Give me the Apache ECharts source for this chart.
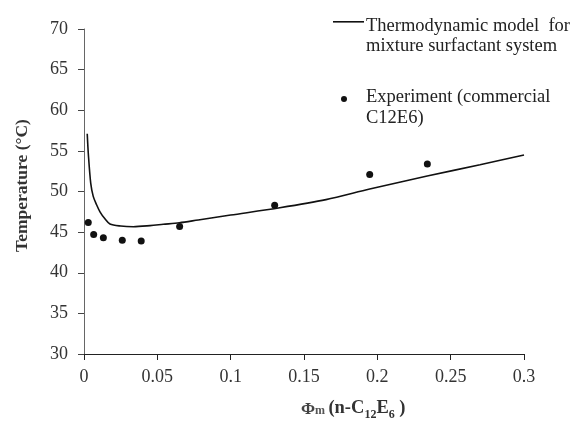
<!DOCTYPE html>
<html>
<head>
<meta charset="utf-8">
<script src="https://cdn.jsdelivr.net/npm/echarts@6/dist/echarts.min.js"></script>
<style>
  html, body { margin: 0; padding: 0; background: #fff; }
  #chart { width: 574px; height: 424px; }
</style>
</head>
<body>
<div id="chart"></div>
<script>
// Thermodynamic model curve: volume fraction vs cloud-point temperature
const modelPhi  = [0.0022, 0.003, 0.0046, 0.0063, 0.0085, 0.0109, 0.014, 0.0177, 0.025, 0.0336, 0.045, 0.054, 0.065, 0.0779, 0.1, 0.1335, 0.165, 0.1948, 0.234, 0.27, 0.3];
const modelTemp = [57.1, 54.5, 51.0, 49.4, 48.4, 47.5, 46.7, 46.0, 45.75, 45.67, 45.8, 45.96, 46.15, 46.5, 47.1, 48.0, 49.0, 50.3, 51.9, 53.3, 54.5];

// Measured points, commercial C12E6
const expPhi  = [0.0029, 0.0066, 0.0132, 0.0261, 0.039, 0.0652, 0.130, 0.1948, 0.2341];
const expTemp = [46.2, 44.7, 44.3, 44.0, 43.9, 45.7, 48.3, 52.1, 53.4];

const xTicks = { min: 0, max: 0.3, interval: 0.05 };
const yTicks = { min: 30, max: 70, interval: 5 };

const modelName = 'Thermodynamic model  for\nmixture surfactant system';
const expName = 'Experiment (commercial\nC12E6)';

const serif = '"Liberation Serif", "DejaVu Serif", serif';

// Legend icons: the visible mark sits at the top of a taller box so it lines up
// with the first line of a two-line label (the trailing zero-length segment only
// extends the bounds).
const lineIcon = 'path://M0,0 L31,0 L31,1.6 L0,1.6 Z M0,30 L0,30';
const dotIcon = 'path://M3,0 A3,3 0 1,1 3,6 A3,3 0 1,1 3,0 Z M3,24 L3,24';

const chart = echarts.init(document.getElementById('chart'), null, { renderer: 'canvas' });

chart.setOption({
  animation: false,
  backgroundColor: '#fff',
  grid: { left: 84, right: 50, top: 29, bottom: 70, containLabel: false },
  legend: [
    {
      data: [{ name: modelName, icon: lineIcon }],
      left: 333, top: 16, padding: 0,
      itemWidth: 31, itemHeight: 30, itemGap: 0,
      textStyle: { fontFamily: serif, fontSize: 18.5, color: '#222', lineHeight: 20, padding: [0, 0, 0, -3] },
      selectedMode: false
    },
    {
      data: [{ name: expName, icon: dotIcon }],
      left: 341, top: 87, padding: 0,
      itemWidth: 6, itemHeight: 24,
      textStyle: { fontFamily: serif, fontSize: 18.5, color: '#222', lineHeight: 21, padding: [0, 0, 0, 14] },
      selectedMode: false
    }
  ],
  xAxis: {
    type: 'value',
    min: xTicks.min, max: xTicks.max, interval: xTicks.interval,
    axisLine: { show: true, onZero: false, lineStyle: { color: '#222', width: 1 } },
    axisTick: { show: true, length: 6, lineStyle: { color: '#222' } },
    axisLabel: {
      fontFamily: serif, fontSize: 18, color: '#333', margin: 14,
      formatter: v => String(+v.toFixed(2))
    },
    splitLine: { show: false }
  },
  yAxis: {
    type: 'value',
    min: yTicks.min, max: yTicks.max, interval: yTicks.interval,
    name: 'Temperature (°C)',
    nameLocation: 'middle',
    nameGap: 53,
    nameTextStyle: { fontFamily: serif, fontSize: 17.5, fontWeight: 'bold', color: '#333', padding: [0, 0, 0, 12] },
    axisLine: { show: true, lineStyle: { color: '#666', width: 1 } },
    axisTick: { show: true, length: 6, lineStyle: { color: '#444' } },
    axisLabel: { fontFamily: serif, fontSize: 18, color: '#333', margin: 16 },
    splitLine: { show: false }
  },
  graphic: [
    {
      type: 'text',
      left: 301, top: 399,
      style: {
        text: '{phi|Φ}{m|m} {b|(n-C}{sub|12}{b|E}{sub|6}{b| )}',
        rich: {
          phi: { fontFamily: serif, fontSize: 17, fontWeight: 'bold', fill: '#444', verticalAlign: 'bottom' },
          m: { fontFamily: serif, fontSize: 12, fontWeight: 'bold', fill: '#555', verticalAlign: 'bottom', padding: [0, 0, 1, 0] },
          b: { fontFamily: serif, fontSize: 18.5, fontWeight: 'bold', fill: '#333', verticalAlign: 'bottom' },
          sub: { fontFamily: serif, fontSize: 12, fontWeight: 'bold', fill: '#333', verticalAlign: 'bottom', padding: [0, 0, -3, 0] }
        }
      }
    }
  ],
  series: [
    {
      name: modelName,
      type: 'line',
      data: modelPhi.map((x, i) => [x, modelTemp[i]]),
      smooth: 0.3,
      showSymbol: false,
      symbol: 'none',
      lineStyle: { color: '#111', width: 1.6 },
      itemStyle: { color: '#111' }
    },
    {
      name: expName,
      type: 'scatter',
      data: expPhi.map((x, i) => [x, expTemp[i]]),
      symbol: 'circle',
      symbolSize: 7,
      itemStyle: { color: '#111', opacity: 1 }
    }
  ]
});
</script>
</body>
</html>
